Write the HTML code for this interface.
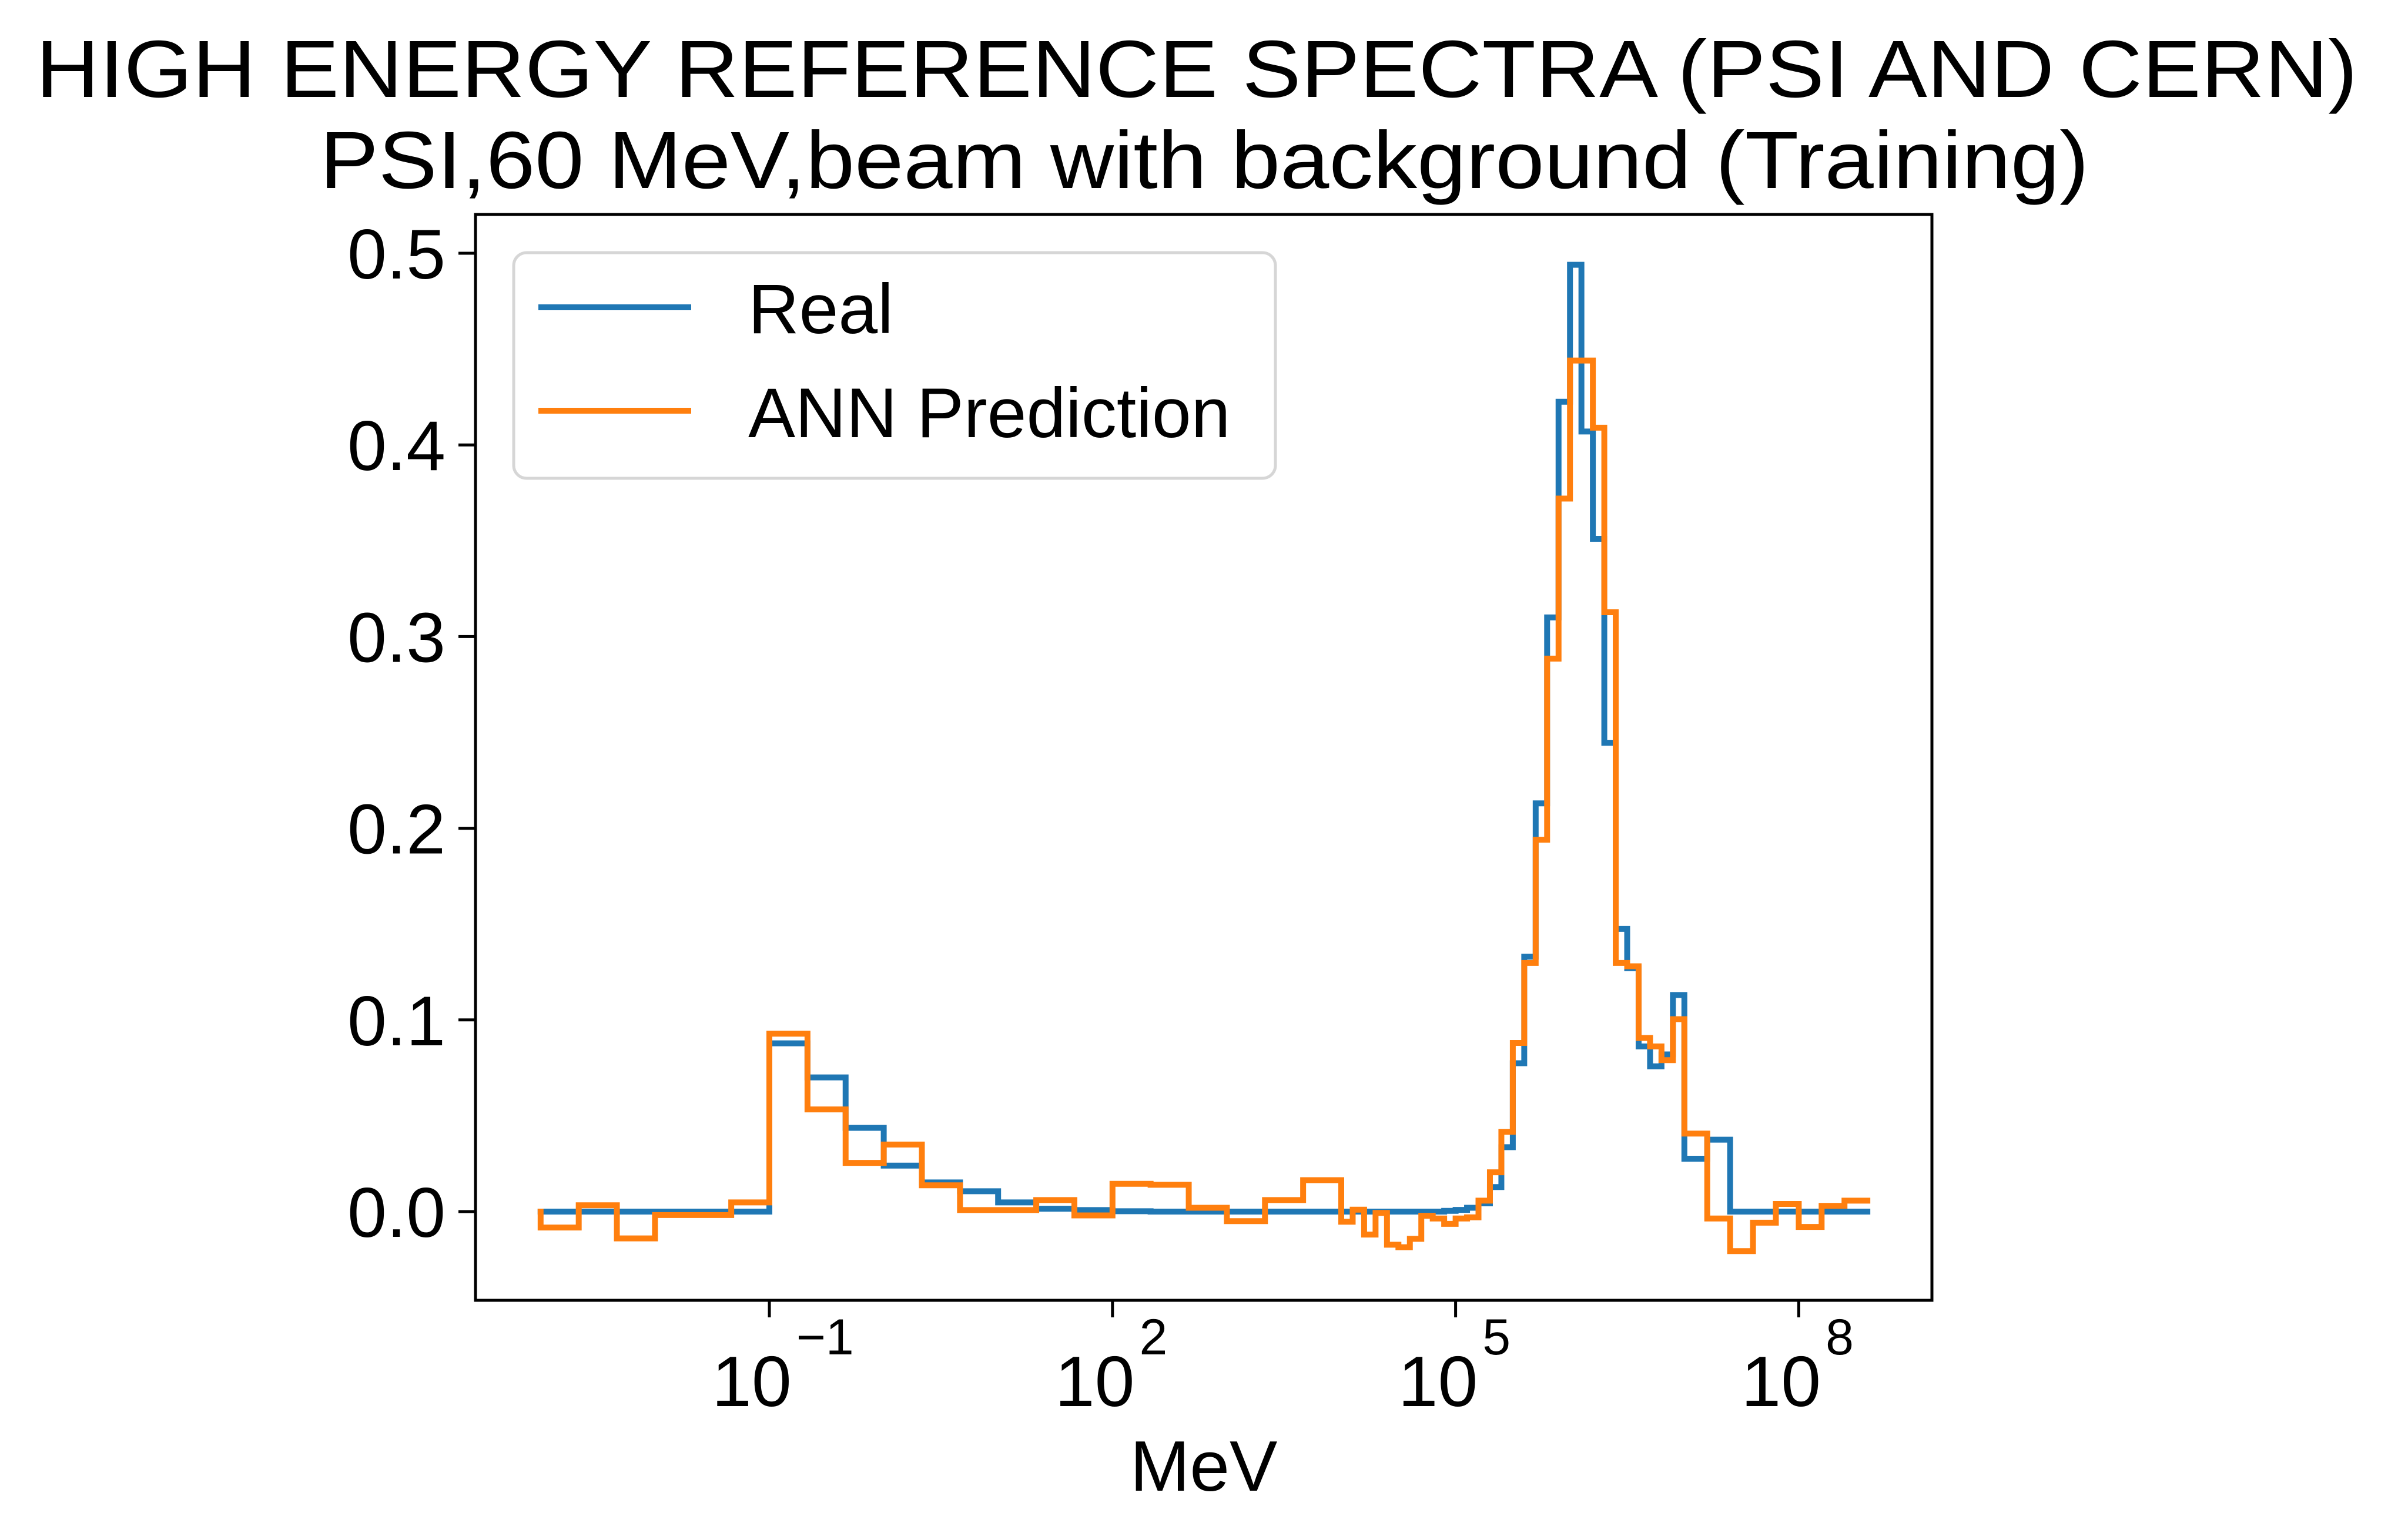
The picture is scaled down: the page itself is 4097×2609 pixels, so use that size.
<!DOCTYPE html>
<html><head><meta charset="utf-8"><title>High energy reference spectra</title>
<style>html,body{margin:0;padding:0;background:#fff;}svg{display:block;}</style></head>
<body>
<svg id="chart" width="4097" height="2609" viewBox="0 0 4097 2609" xmlns="http://www.w3.org/2000/svg" font-family="Liberation Sans, Arial, sans-serif">
<rect x="0" y="0" width="4097" height="2609" fill="#fff"/>
<text x="2036" y="165" font-size="138" text-anchor="middle" textLength="3950" lengthAdjust="spacingAndGlyphs">HIGH ENERGY REFERENCE SPECTRA (PSI AND CERN)</text>
<text x="2049" y="320" font-size="138" text-anchor="middle" textLength="3010" lengthAdjust="spacingAndGlyphs">PSI,60 MeV,beam with background (Training)</text>
<g id="plot"></g>
<text x="2048" y="2537" font-size="122" text-anchor="middle">MeV</text>
<g>
<rect x="874" y="430" width="1296" height="384" rx="22" fill="#fff" fill-opacity="0.8" stroke="#d6d6d6" stroke-width="5"/>
<line x1="916" y1="523" x2="1176" y2="523" stroke="#1f77b4" stroke-width="10"/>
<text x="1273" y="567" font-size="120">Real</text>
<line x1="916" y1="699" x2="1176" y2="699" stroke="#ff7f0e" stroke-width="10"/>
<text x="1273" y="744" font-size="120">ANN Prediction</text>
</g>
</svg>
<script>
// Bin edges (log10 of MeV)
const coarseStarts = [-3, -2.6667, -2.3333, -2, -1.6667, -1.3333, -1, -0.6667, -0.3333, 0, 0.3333, 0.6667, 1, 1.3333, 1.6667, 2, 2.3333, 2.6667, 3, 3.3333, 3.6667];
const fineStarts = [4,4.1,4.2,4.3,4.4,4.5,4.6,4.7,4.8,4.9,5,5.1,5.2,5.3,5.4,5.5,5.6,5.7,5.8,5.9,6,6.1,6.2,6.3,6.4,6.5,6.6,6.7,6.8,6.9];
const highStarts = [7,7.2,7.4,7.6,7.8,8,8.2,8.4];
const lastEdge = 8.6;
// Series values per bin
const realValues = [0,0,0,0,0,0,0.0878,0.070,0.0437,0.024,0.0152,0.0106,0.0048,0.0015,0.0008,0.0002,0,0,0,0,0,
 0,0,0,0,0,0,0,0,0,0.0004,0.0009,0.002,0.0043,0.0128,0.0336,0.0774,0.133,0.213,0.310,0.4225,0.494,0.407,0.351,0.2446,0.1475,0.127,0.0862,0.0758,0.082,0.113,
 0.0276,0.0375,0,0,0,0,0,0];
const annValues = [-0.0083,0.0033,-0.014,-0.0018,-0.0018,0.0048,0.0928,0.0533,0.0254,0.035,0.0137,0.0008,0.0008,0.006,-0.002,0.0145,0.014,0.002,-0.005,0.006,0.0164,
 -0.0053,0.001,-0.012,-0.0007,-0.0173,-0.0186,-0.0142,-0.0022,-0.0036,-0.0064,-0.0036,-0.003,0.0057,0.0205,0.0416,0.088,0.1297,0.194,0.2885,0.372,0.444,0.444,0.409,0.3127,0.1297,0.128,0.0906,0.0862,0.079,0.1004,
 0.0407,-0.0036,-0.0206,-0.0058,0.004,-0.008,0.003,0.0057];
const yTicks = [0.0,0.1,0.2,0.3,0.4,0.5];
const yTickLabels = ["0.0","0.1","0.2","0.3","0.4","0.5"];
const xTicks = [-1,2,5,8];
const xTickLabels = ["\u22121","2","5","8"];

const NS = "http://www.w3.org/2000/svg";
const AX = {left:809, right:3287, top:365, bottom:2213};
function xScale(lx){ return 1309 + (lx + 1) * 194.6; }
function yScale(v){ return 2062 - v * 3262; }
const plot = document.getElementById('plot');
function mk(tag, attrs){ const e = document.createElementNS(NS, tag); for (const k in attrs) e.setAttribute(k, attrs[k]); return e; }

const edges = coarseStarts.concat(fineStarts, highStarts, [lastEdge]);

function stairs(vals, color, name){
  let d = "M" + xScale(edges[0]) + "," + yScale(0);
  for (let i = 0; i < vals.length; i++){
    d += " L" + xScale(edges[i]) + "," + yScale(vals[i]);
    d += " L" + xScale(edges[i+1]) + "," + yScale(vals[i]);
  }
  const p = mk('path', {d:d, fill:'none', stroke:color, 'stroke-width':10, 'stroke-linejoin':'miter', 'stroke-linecap':'square'});
  
  
  plot.appendChild(p);
}
stairs(realValues, '#1f77b4', 'real-series-line');
stairs(annValues, '#ff7f0e', 'ann-prediction-series-line');

const frame = mk('rect', {x:AX.left, y:AX.top, width:AX.right-AX.left, height:AX.bottom-AX.top, fill:'none', stroke:'#000', 'stroke-width':5});


plot.appendChild(frame);

yTicks.forEach((v, i) => {
  const y = yScale(v);
  const t = mk('line', {x1:AX.left-29, x2:AX.left, y1:y, y2:y, stroke:'#000', 'stroke-width':5});
  
  
  plot.appendChild(t);
  const l = mk('text', {x:758, y:y+43, 'font-size':120, 'text-anchor':'end'});
  l.textContent = yTickLabels[i];
  
  
  plot.appendChild(l);
});

xTicks.forEach((v, i) => {
  const x = xScale(v);
  const t = mk('line', {x1:x, x2:x, y1:AX.bottom, y2:AX.bottom+29, stroke:'#000', 'stroke-width':5});
  
  
  plot.appendChild(t);
  const l = mk('text', {x:x-98, y:2393, 'font-size':122});
  l.textContent = "10";
  
  
  const s = mk('tspan', {'font-size':86, dy:-88, dx:8});
  s.textContent = xTickLabels[i];
  
  
  l.appendChild(s);
  plot.appendChild(l);
});
</script>
</body></html>
